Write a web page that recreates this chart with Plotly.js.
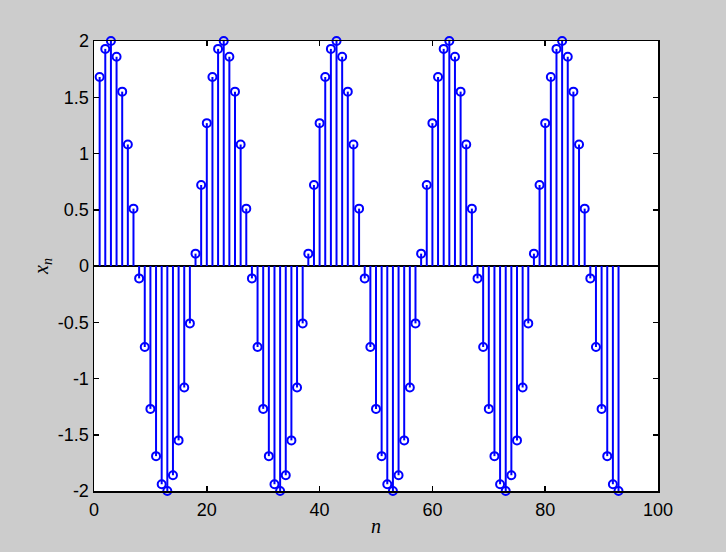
<!DOCTYPE html>
<html>
<head>
<script src="https://cdn.plot.ly/plotly-3.0.1.min.js"></script>
<style>html,body{margin:0;padding:0;background:#cccccc;}</style>
</head>
<body>
<div id="chart" style="width:726px;height:552px;"></div>
<script>
var n = [];
for (var i = 1; i <= 93; i++) n.push(i);
var xn = [
 1.68, 1.93, 2.00, 1.86, 1.55, 1.08, 0.51, -0.11, -0.72, -1.27,
 -1.69, -1.94, -2.00, -1.86, -1.55, -1.08, -0.51, 0.11, 0.72, 1.27,
 1.68, 1.93, 2.00, 1.86, 1.55, 1.08, 0.51, -0.11, -0.72, -1.27,
 -1.69, -1.94, -2.00, -1.86, -1.55, -1.08, -0.51, 0.11, 0.72, 1.27,
 1.68, 1.93, 2.00, 1.86, 1.55, 1.08, 0.51, -0.11, -0.72, -1.27,
 -1.69, -1.94, -2.00, -1.86, -1.55, -1.08, -0.51, 0.11, 0.72, 1.27,
 1.68, 1.93, 2.00, 1.86, 1.55, 1.08, 0.51, -0.11, -0.72, -1.27,
 -1.69, -1.94, -2.00, -1.86, -1.55, -1.08, -0.51, 0.11, 0.72, 1.27,
 1.68, 1.93, 2.00, 1.86, 1.55, 1.08, 0.51, -0.11, -0.72, -1.27,
 -1.69, -1.94, -2.00
];
var xTicks = [0, 20, 40, 60, 80, 100];
var yTicks = [-2, -1.5, -1, -0.5, 0, 0.5, 1, 1.5, 2];
var yTickText = ["-2", "-1.5", "-1", "-0.5", "0", "0.5", "1", "1.5", "2"];

var sx = [], sy = [];
for (var k = 0; k < n.length; k++) {
  sx.push(n[k], n[k], null);
  sy.push(0, xn[k], null);
}
var stems = {
  x: sx, y: sy, mode: 'lines', type: 'scatter',
  line: {color: '#0000ff', width: 2}, hoverinfo: 'skip', showlegend: false
};
var heads = {
  x: n, y: xn, mode: 'markers', type: 'scatter', cliponaxis: false,
  marker: {symbol: 'circle-open', size: 8, color: '#0000ff', line: {width: 2, color: '#0000ff'}},
  showlegend: false
};
var layout = {
  width: 726, height: 552,
  paper_bgcolor: '#cccccc', plot_bgcolor: '#ffffff',
  margin: {l: 94, r: 68, t: 41, b: 61},
  font: {family: 'Liberation Sans, Arial, sans-serif', size: 18, color: '#000000'},
  xaxis: {
    range: [0, 100], tickvals: xTicks, ticks: 'inside', ticklen: 5, tickwidth: 1.5,
    tickcolor: '#000', showline: true, linecolor: '#000', linewidth: 1.5, mirror: 'ticks',
    showgrid: false, zeroline: false, ticklabelstandoff: 2,
    title: {text: '<i>n</i>', font: {family: 'Liberation Serif, Times New Roman, serif', size: 20}, standoff: 0}
  },
  yaxis: {
    range: [-2, 2], tickvals: yTicks, ticktext: yTickText, ticks: 'inside', ticklen: 5, tickwidth: 1.5,
    tickcolor: '#000', showline: true, linecolor: '#000', linewidth: 1.5, mirror: 'ticks',
    showgrid: false, zeroline: true, zerolinecolor: '#000', zerolinewidth: 1.5,
    title: {text: '<i>x<sub>n</sub></i>', font: {family: 'Liberation Serif, Times New Roman, serif', size: 20}, standoff: 4}
  }
};
Plotly.newPlot('chart', [stems, heads], layout, {displayModeBar: false, staticPlot: true});
</script>
</body>
</html>
